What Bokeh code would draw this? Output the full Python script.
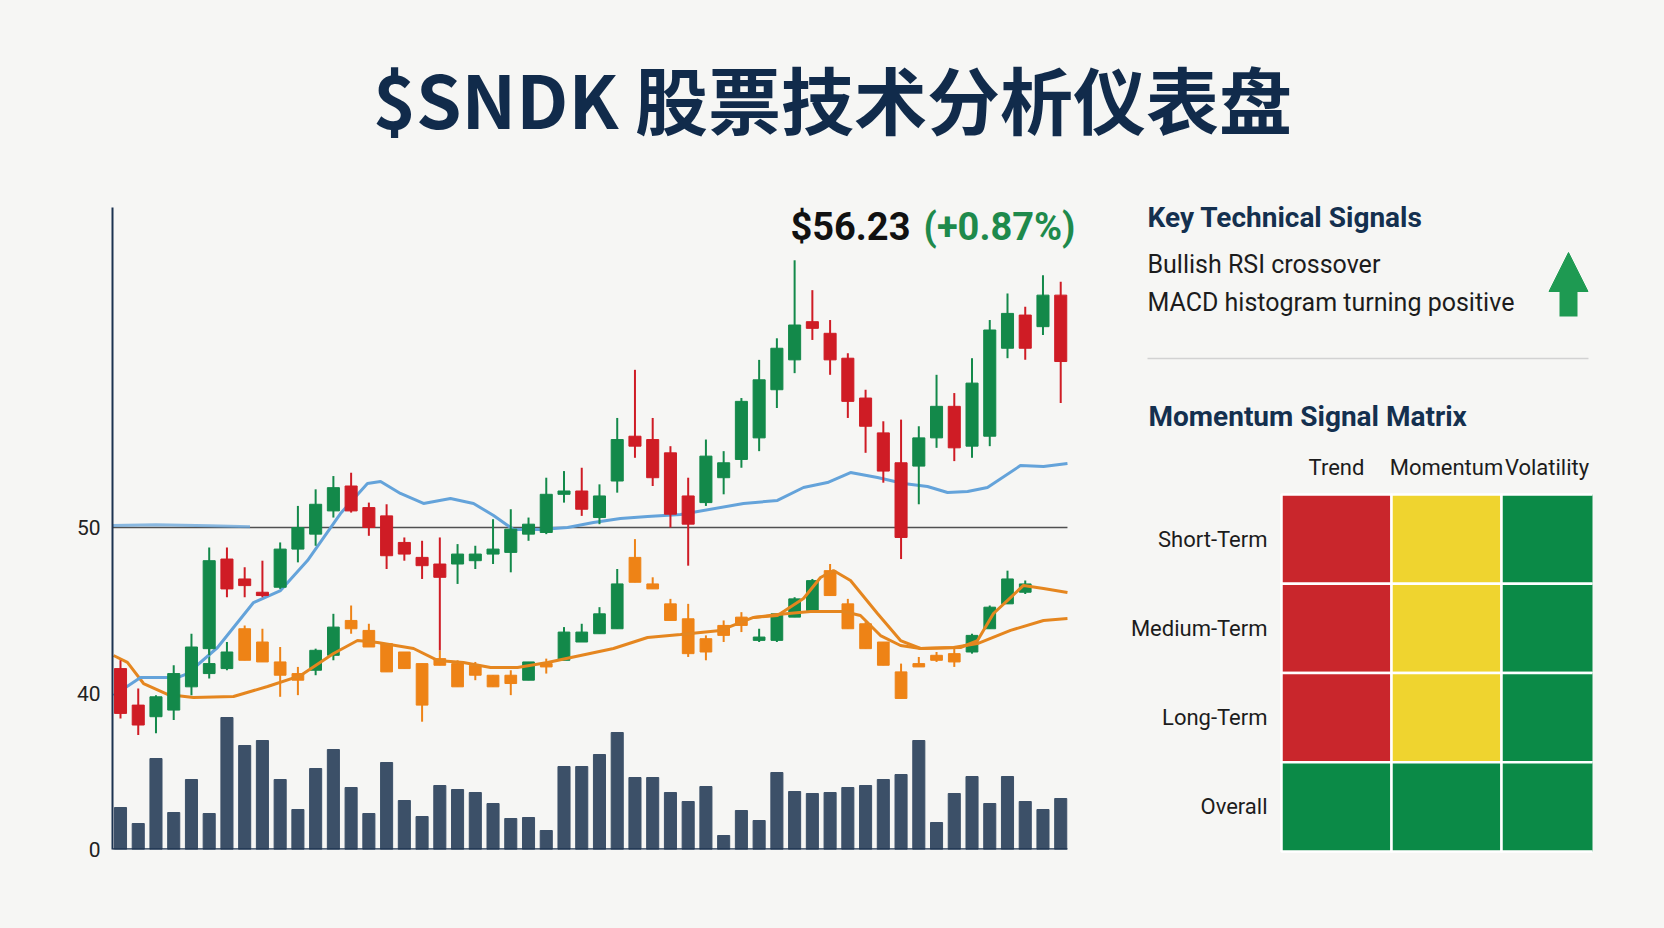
from bokeh.plotting import figure
from bokeh.models import (ColumnDataSource, Range1d, LinearAxis, FixedTicker, Label, Arrow,
                          NormalHead)
from bokeh.layouts import column, row
from bokeh.embed import file_html
from bokeh.resources import INLINE
from bokeh.core.properties import value

# ---------------- data ----------------
title_text = "$SNDK 股票技术分析仪表盘"
last_price = 56.23
change_pct = 0.87

main_open = [41.5, 39.3, 38.6, 39.0, 40.4, 42.7, 48.1, 46.9, 46.1, 46.4,
             48.7, 49.6, 51.0, 52.5, 51.2, 50.7, 49.1, 48.2, 47.8, 47.8,
             48.0, 48.4, 48.5, 49.6, 49.7, 52.0, 52.2, 50.6, 52.8, 55.5,
             55.3, 54.5, 51.9, 51.5, 53.0, 54.1, 55.4, 58.3, 60.1, 62.4,
             61.7, 60.2, 57.8, 55.7, 53.9, 53.7, 55.4, 57.3, 54.9, 55.5,
             60.8, 62.8, 62.1, 64.0]
main_high = [42.0, 40.3, 39.9, 41.7, 43.6, 48.8, 48.8, 47.6, 48.0, 49.1,
             51.3, 52.3, 53.1, 53.3, 51.5, 51.4, 49.4, 49.2, 49.4, 49.0,
             48.9, 50.5, 51.1, 50.6, 53.0, 53.4, 53.6, 52.6, 56.6, 59.5,
             56.6, 54.9, 53.0, 55.3, 54.6, 57.8, 60.1, 61.4, 66.1, 64.3,
             62.5, 60.5, 58.3, 56.4, 56.5, 56.1, 59.2, 58.1, 60.2, 62.5,
             64.1, 63.3, 65.2, 64.8]
main_low = [38.5, 37.5, 37.6, 38.4, 39.9, 42.3, 45.8, 45.8, 45.8, 46.3,
            47.9, 48.9, 50.6, 50.9, 49.5, 47.5, 48.0, 46.9, 42.6, 46.6,
            47.5, 47.8, 47.3, 49.2, 49.6, 51.5, 50.7, 50.2, 52.1, 54.2,
            52.5, 50.0, 47.7, 51.3, 52.0, 53.6, 54.6, 57.2, 59.3, 61.3,
            59.2, 56.6, 54.5, 52.7, 48.1, 51.4, 54.8, 54.0, 54.2, 54.9,
            60.2, 60.1, 61.6, 57.5]
main_close = [38.8, 38.1, 39.8, 41.2, 42.8, 48.0, 46.3, 46.5, 45.9, 48.7,
              50.0, 51.4, 52.4, 51.0, 50.0, 48.3, 48.4, 47.7, 47.0, 48.4,
              48.4, 48.7, 49.9, 50.2, 52.0, 52.2, 51.1, 51.9, 55.3, 54.9,
              53.0, 50.8, 50.2, 54.3, 53.9, 57.6, 58.9, 60.8, 62.2, 62.0,
              60.1, 57.6, 56.1, 53.4, 49.4, 55.4, 57.3, 54.8, 58.7, 61.9,
              62.9, 60.8, 64.0, 60.0]

sec_start = 5
sec_open = [41.2, 41.5, 43.9, 43.1, 41.9, 41.2, 41.4, 42.3, 44.4, 43.8,
            43.0, 42.5, 41.8, 42.1, 41.8, 41.7, 41.1, 41.1, 40.8, 41.8,
            42.0, 43.1, 43.6, 43.9, 48.2, 46.6, 45.4, 44.5, 43.3, 44.1,
            44.6, 43.2, 43.2, 44.6, 45.0, 47.4, 45.4, 44.2, 43.1, 41.3,
            41.8, 42.3, 42.4, 42.5, 43.9, 45.4, 46.1]
sec_high = [42.8, 43.1, 44.1, 43.9, 42.8, 41.6, 42.7, 44.8, 45.3, 44.2,
            43.0, 42.5, 41.8, 42.6, 42.0, 41.9, 41.1, 41.4, 41.9, 42.1,
            44.0, 44.2, 45.2, 47.5, 49.3, 47.0, 45.7, 45.4, 43.5, 44.4,
            44.9, 43.9, 44.8, 45.8, 46.9, 47.8, 45.7, 44.3, 43.1, 41.8,
            42.2, 42.5, 42.8, 43.6, 45.3, 47.4, 46.8]
sec_low = [40.9, 41.4, 42.0, 41.9, 39.8, 39.9, 41.1, 42.0, 43.6, 42.8,
           41.3, 41.5, 38.3, 41.7, 40.4, 40.8, 40.4, 39.9, 40.8, 41.2,
           42.0, 43.1, 43.6, 43.9, 46.7, 46.3, 44.4, 42.2, 42.0, 43.1,
           43.7, 43.1, 43.1, 44.6, 45.0, 45.9, 43.9, 42.7, 41.7, 39.7,
           41.6, 41.9, 41.6, 42.4, 43.9, 45.4, 46.0]
sec_close = [41.8, 42.5, 42.0, 41.9, 41.1, 40.8, 42.6, 44.0, 43.9, 42.8,
             41.3, 41.5, 39.3, 41.7, 40.4, 41.1, 40.4, 40.6, 41.9, 41.6,
             43.7, 43.7, 44.8, 46.6, 46.7, 46.3, 44.4, 42.4, 42.5, 43.5,
             44.1, 43.4, 44.8, 45.7, 46.8, 45.9, 43.9, 42.7, 41.7, 39.7,
             41.6, 42.0, 41.9, 43.5, 45.2, 46.9, 46.6]

volume = [4.2, 2.6, 9.1, 3.7, 7.0, 3.6, 13.2, 10.4, 10.9, 7.0,
          4.0, 8.1, 10.0, 6.2, 3.6, 8.7, 4.9, 3.3, 6.4, 6.0,
          5.7, 4.6, 3.1, 3.2, 1.9, 8.3, 8.3, 9.5, 11.7, 7.2,
          7.2, 5.7, 4.8, 6.3, 1.4, 3.9, 2.9, 7.7, 5.8, 5.6,
          5.7, 6.2, 6.4, 7.0, 7.5, 10.9, 2.7, 5.6, 7.3, 4.6,
          7.3, 4.8, 4.0, 5.1]

blue_x = [-0.39, 1.13, 3.21, 3.78, 5.47, 7.50, 9.02, 10.54, 12.40, 13.92, 14.66, 15.78,
          17.08, 18.60, 19.90, 21.03, 22.15, 23.68, 25.20, 26.66, 28.18, 29.71, 31.57,
          35.12, 37.03, 38.50, 39.85, 41.15, 42.67, 44.14, 45.49, 46.62, 47.75, 48.87,
          50.73, 52.03, 53.38]
blue_y = [39.88, 40.96, 40.96, 41.20, 42.77, 45.48, 46.20, 48.01, 50.84, 52.65, 52.77, 52.05,
          51.45, 51.75, 51.45, 50.72, 49.88, 49.88, 50.00, 50.30, 50.54, 50.66, 50.78,
          51.45, 51.63, 52.41, 52.71, 53.31, 53.01, 52.65, 52.47, 52.11, 52.17, 52.41,
          53.73, 53.67, 53.86]
blue_ref_x = [-0.45, 2.0, 5.0, 7.3]
blue_ref_y = [50.12, 50.16, 50.10, 50.05]

orange_a_x = [-0.39, 0.39, 1.30, 2.65, 4.11, 6.37, 8.29, 10.15, 12.01, 13.36, 14.49, 16.52,
              17.87, 19.33, 20.86, 22.38, 24.07, 25.93, 27.79, 29.71, 31.57, 33.82, 35.68,
              37.03, 38.90, 40.76, 41.71, 42.84, 43.97, 45.10, 46.96, 48.31, 50.17, 52.03,
              53.38]
orange_a_y = [42.29, 41.87, 40.60, 39.94, 39.76, 39.82, 40.42, 41.08, 42.41, 43.19, 43.07, 42.71,
              41.99, 41.87, 41.57, 41.57, 41.87, 42.29, 42.71, 43.37, 43.55, 43.80, 44.58,
              44.76, 44.94, 44.94, 44.70, 43.49, 42.89, 42.71, 42.77, 43.01, 43.80, 44.40,
              44.52]
orange_b_x = [35.68, 37.03, 38.50, 39.46, 40.19, 41.15, 42.67, 43.97, 45.10, 47.35, 48.31,
              49.21, 50.17, 50.90, 52.03, 53.38]
orange_b_y = [44.58, 44.70, 45.72, 46.99, 47.41, 46.81, 44.82, 43.19, 42.71, 42.77, 43.19,
              44.82, 45.78, 46.51, 46.33, 46.08]

signals = ["Bullish RSI crossover", "MACD histogram turning positive"]
matrix_cols = ["Trend", "Momentum", "Volatility"]
matrix_rows = ["Short-Term", "Medium-Term", "Long-Term", "Overall"]
matrix_status = [["bear", "neutral", "bull"],
                 ["bear", "neutral", "bull"],
                 ["bear", "neutral", "bull"],
                 ["bull", "bull", "bull"]]

# ---------------- style ----------------
BG = "#f6f6f4"
NAVY = "#112b4b"
UP = "#13894a"
DOWN = "#cf1c25"
SEC_DOWN = "#ee8316"
BLUE = "#64a3da"
ORANGE = "#e5861f"
VOLC = "#3c5068"
AXC = "#1c3350"
FONT = "Roboto"
STATUS_COLOR = {"bear": "#c9262c", "neutral": "#efd42f", "bull": "#0b8a47"}

TITLE_H = 168
BODY_H = 928 - TITLE_H
X_START, X_END = -0.451, 54.115      # chart frame
DATA_END = 53.38                     # right end of the drawn series area
Y_START, Y_END = 30.6, 69.28


def style_fig(f):
    f.background_fill_color = BG
    f.border_fill_color = BG
    f.outline_line_color = None
    f.grid.visible = False


# ---------------- title ----------------
tf = figure(width=1664, height=TITLE_H, output_backend="svg", toolbar_location=None,
            x_range=Range1d(0, 1664), y_range=Range1d(TITLE_H, 0),
            min_border_left=0, min_border_right=0, min_border_top=0, min_border_bottom=0,
            x_axis_type=None, y_axis_type=None)
style_fig(tf)
tf.add_layout(Label(x=832, y=96, text=title_text, text_align="center", text_baseline="middle",
                    text_font="Noto Sans CJK SC", text_font_style="bold",
                    text_font_size="73px", text_color=NAVY))

# ---------------- chart ----------------
p = figure(width=1108, height=BODY_H, output_backend="svg", toolbar_location=None,
           x_range=Range1d(X_START, X_END), y_range=Range1d(Y_START, Y_END),
           min_border_left=112, min_border_right=28, min_border_top=207 - TITLE_H,
           min_border_bottom=79, x_axis_type=None, y_axis_type=None)
style_fig(p)
p.extra_y_ranges = {"vol": Range1d(0, 64.2)}

idx = list(range(len(main_open)))
vsrc = ColumnDataSource(dict(x=idx, v=volume))
p.vbar(x="x", top="v", bottom=0, width=0.68, source=vsrc, y_range_name="vol",
       fill_color=VOLC, line_color=VOLC)
p.line(x=[X_START, DATA_END], y=[0, 0], y_range_name="vol", line_color=AXC, line_width=2.5)

p.line(x=[X_START, DATA_END], y=[50, 50], line_color="#505050", line_width=1.3)
p.line(x=blue_ref_x, y=blue_ref_y, line_color=BLUE, line_width=3, line_alpha=0.75)


def candle_source(xs, o, h, l, c, up_col, down_col):
    return ColumnDataSource(dict(
        x=xs, high=h, low=l,
        top=[max(a, b) for a, b in zip(o, c)],
        bottom=[min(a, b) for a, b in zip(o, c)],
        color=[up_col if cc >= oo else down_col for oo, cc in zip(o, c)]))


sec_idx = list(range(sec_start, sec_start + len(sec_open)))
ssrc = candle_source(sec_idx, sec_open, sec_high, sec_low, sec_close, UP, SEC_DOWN)
p.segment(x0="x", y0="low", x1="x", y1="high", source=ssrc, line_color="color", line_width=2)
p.vbar(x="x", top="top", bottom="bottom", width=0.66, source=ssrc,
       fill_color="color", line_color="color")

p.line(x=orange_a_x, y=orange_a_y, line_color=ORANGE, line_width=3)
p.line(x=orange_b_x, y=orange_b_y, line_color=ORANGE, line_width=3)
p.line(x=blue_x, y=blue_y, line_color=BLUE, line_width=3)

msrc = candle_source(idx, main_open, main_high, main_low, main_close, UP, DOWN)
p.segment(x0="x", y0="low", x1="x", y1="high", source=msrc, line_color="color", line_width=2)
p.vbar(x="x", top="top", bottom="bottom", width=0.68, source=msrc,
       fill_color="color", line_color="color")

yaxis = LinearAxis(ticker=FixedTicker(ticks=[Y_START, 40, 50]),
                   major_label_overrides={Y_START: "0"})
yaxis.axis_line_color = AXC
yaxis.axis_line_width = 2
yaxis.major_tick_line_color = None
yaxis.minor_tick_line_color = None
yaxis.major_label_standoff = 6
yaxis.major_label_text_font = FONT
yaxis.major_label_text_font_size = "21px"
yaxis.major_label_text_color = "#222222"
p.add_layout(yaxis, "left")

price_y = 68.13
p.add_layout(Label(x=DATA_END, y=price_y, x_offset=8, text=f"(+{change_pct:.2f}%)",
                   text_align="right", text_baseline="alphabetic", text_font=FONT,
                   text_font_style="bold", text_font_size="38px", text_color="#1e8a4c"))
p.add_layout(Label(x=DATA_END, y=price_y, x_offset=-157, text=f"${last_price:.2f}",
                   text_align="right", text_baseline="alphabetic", text_font=FONT,
                   text_font_style="bold", text_font_size="38px", text_color="#111111"))

# ---------------- right panel (signals + momentum matrix) ----------------
# data units: one matrix cell = 1 x 1; helpers convert page pixels to those units
PX0, PY0 = 1281.0, 851.0
CW, RH = 110.0, 89.25
R_TOP, R_BOT = 180, 856       # frame extent on the page


def U(px):
    return (px - PX0) / CW


def V(py):
    return (PY0 - py) / RH


rf = figure(width=556, height=BODY_H, output_backend="svg", toolbar_location=None,
            x_range=Range1d(U(1108), U(1592)), y_range=Range1d(V(R_BOT), V(R_TOP)),
            min_border_left=0, min_border_right=72, min_border_top=R_TOP - TITLE_H,
            min_border_bottom=928 - R_BOT, x_axis_type=None, y_axis_type=None)
style_fig(rf)

rf.add_layout(Label(x=U(1147), y=V(216.5), text="Key Technical Signals", text_font=FONT,
                    text_baseline="alphabetic", text_font_style="bold",
                    text_font_size="28px", text_color="#14304f"))
for k, s in enumerate(signals):
    rf.add_layout(Label(x=U(1147), y=V(263.5 + 38 * k), text=s, text_font=FONT,
                        text_baseline="alphabetic", text_font_size="25px",
                        text_color="#1c1c1c"))
GREEN_ARROW = "#1e9a52"
rf.add_layout(Arrow(end=None, x_start=U(1568), y_start=V(316), x_end=U(1568), y_end=V(286),
                    line_color=GREEN_ARROW, line_width=18))
rf.add_layout(Arrow(end=NormalHead(size=39, fill_color=GREEN_ARROW, line_color=GREEN_ARROW),
                    x_start=U(1568), y_start=V(300), x_end=U(1568), y_end=V(252),
                    line_alpha=0))
rf.add_layout(Arrow(end=None, x_start=U(1147), y_start=V(358), x_end=U(1588), y_end=V(358),
                    line_color="#d2d2d2", line_width=1.5))
rf.add_layout(Label(x=U(1148), y=V(415.5), text="Momentum Signal Matrix", text_font=FONT,
                    text_baseline="alphabetic", text_font_style="bold",
                    text_font_size="28px", text_color="#14304f"))

n_rows = len(matrix_rows)
ql, qr, qb, qt, qc = [], [], [], [], []
for r, rname in enumerate(matrix_rows):
    for c, cname in enumerate(matrix_cols):
        ql.append(c)
        qr.append(c + 1)
        qb.append(n_rows - 1 - r)
        qt.append(n_rows - r)
        qc.append(STATUS_COLOR[matrix_status[r][c]])
rf.quad(left=ql, right=qr, bottom=qb, top=qt, fill_color=qc, line_color="white", line_width=2.5)

x_vis_end = U(1592)
head_x = [(c + min(c + 1, x_vis_end)) / 2 for c in range(len(matrix_cols))]
rf.text(x=head_x, y=[V(467)] * len(matrix_cols), text=matrix_cols,
        text_align="center", text_baseline="alphabetic",
        text_font=value(FONT), text_font_size="22px", text_color="#1c1c1c")
rf.text(x=[U(1267)] * n_rows, y=[n_rows - 1 - r + 0.5 for r in range(n_rows)], text=matrix_rows,
        text_align="right", text_baseline="middle",
        text_font=value(FONT), text_font_size="22px", text_color="#1c1c1c")

layout = column(tf, row(p, column(rf, styles={"background-color": BG}),
                        styles={"background-color": BG}),
                styles={"background-color": BG})
open("out.html", "w").write(file_html(layout, INLINE))
